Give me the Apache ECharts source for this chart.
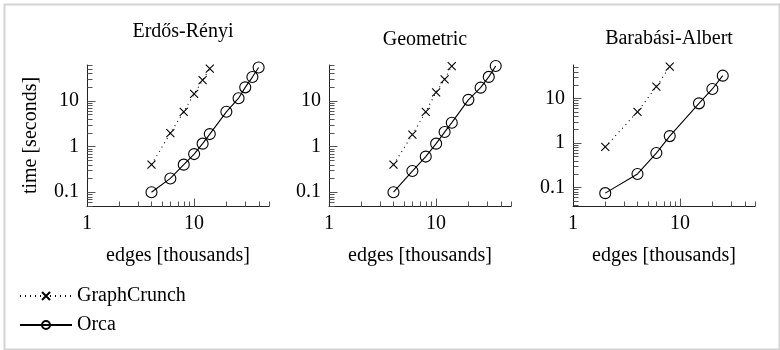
<!DOCTYPE html>
<html>
<head>
<meta charset="utf-8">
<script src="https://cdn.jsdelivr.net/npm/echarts@6/dist/echarts.min.js"></script>
<style>html,body{margin:0;padding:0;background:#fff}#c{width:780px;height:350px}</style>
</head>
<body>
<div id="c"></div>
<script>
// ---- data (edges in thousands, time in seconds) ----
const panelTitles = ['Erdős-Rényi', 'Geometric', 'Barabási-Albert'];
const seriesNames = ['GraphCrunch', 'Orca'];

const erGcX = [4, 6, 8, 10, 12, 14];
const erGcY = [0.4, 1.95, 5.7, 14, 28, 50];
const erOrcaX = [4, 6, 8, 10, 12, 14, 20, 26, 30, 35, 40];
const erOrcaY = [0.1, 0.2, 0.4, 0.68, 1.15, 1.86, 5.7, 11.3, 19.5, 32.7, 53];

const geoGcX = [4, 6, 8, 10, 12, 14];
const geoGcY = [0.4, 1.8, 5.7, 15.2, 29, 57];
const geoOrcaX = [4, 6, 8, 10, 12, 14, 20, 26, 31, 36];
const geoOrcaY = [0.1, 0.29, 0.6, 1.15, 2.06, 3.3, 10.4, 19.2, 33, 57];

const baGcX = [2, 4, 6, 8];
const baGcY = [0.81, 5.0, 18.4, 52];
const baOrcaX = [2, 4, 6, 8, 15, 20, 25];
const baOrcaY = [0.074, 0.2, 0.59, 1.42, 7.75, 16.3, 32.5];

// axis ranges and tick positions
const xMin = 1, xMax = 50;
const yMins = [0.05, 0.05, 0.038];
const yMaxs = [60, 60, 56.5];
const xMajorTicks = [10];
const xMinorTicks = [2, 3, 4, 5, 6, 7, 8, 9, 20, 30, 40, 50];
const yMajorTicks = [0.1, 1, 10];
const yMinorTicks = [0.04, 0.05, 0.06, 0.07, 0.08, 0.09, 0.2, 0.3, 0.4, 0.5, 0.6, 0.7, 0.8, 0.9,
                     2, 3, 4, 5, 6, 7, 8, 9, 20, 30, 40, 50, 60];

const panels = [
  {gcX: erGcX, gcY: erGcY, oX: erOrcaX, oY: erOrcaY},
  {gcX: geoGcX, gcY: geoGcY, oX: geoOrcaX, oY: geoOrcaY},
  {gcX: baGcX, gcY: baGcY, oX: baOrcaX, oY: baOrcaY}
];

const FONT = 'Liberation Serif';
const FS = 20;
const gridLefts = [87, 329, 573];
const titleTops = [17, 25, 24];
const gridW = 182, gridTop = 65, gridH = 141;

function zip(a, b) { return a.map((v, i) => [v, b[i]]); }
function fmtPow(v) {
  const l = Math.log10(v), e = Math.round(l);
  if (Math.abs(l - e) > 1e-6) return '';
  return e < 0 ? Math.pow(10, e).toFixed(-e) : String(Math.round(Math.pow(10, e)));
}

const crossPath = 'path://M0,0L10,10M0,10L10,0';

const grid = [], xAxis = [], yAxis = [], series = [], title = [];
panels.forEach((p, i) => {
  grid.push({left: gridLefts[i], top: gridTop, width: gridW, height: gridH});
  title.push({
    text: panelTitles[i], left: gridLefts[i] + gridW / 2, top: titleTops[i], textAlign: 'center',
    textStyle: {fontFamily: FONT, fontSize: FS, fontWeight: 'normal', color: '#000'}
  });
  xAxis.push({
    type: 'log', logBase: 10, gridIndex: i, min: xMin, max: xMax,
    axisLine: {show: true, lineStyle: {color: '#222', width: 1}},
    axisTick: {show: false}, splitLine: {show: false}, minorTick: {show: false},
    axisLabel: {fontFamily: FONT, fontSize: FS, color: '#000', margin: 8, formatter: fmtPow},
    name: 'edges [thousands]', nameLocation: 'middle', nameGap: 40,
    nameTextStyle: {fontFamily: FONT, fontSize: FS, color: '#000'}
  });
  yAxis.push({
    type: 'log', logBase: 10, gridIndex: i, min: yMins[i], max: yMaxs[i],
    axisLine: {show: true, lineStyle: {color: '#222', width: 1}},
    axisTick: {show: false}, splitLine: {show: false}, minorTick: {show: false},
    axisLabel: {fontFamily: FONT, fontSize: FS, color: '#000', margin: 8, formatter: fmtPow},
    name: i === 0 ? 'time [seconds]' : '', nameLocation: 'middle', nameGap: 46,
    nameTextStyle: {fontFamily: FONT, fontSize: FS, color: '#000'}
  });
  series.push({
    name: seriesNames[0], type: 'line', xAxisIndex: i, yAxisIndex: i,
    data: zip(p.gcX, p.gcY), clip: false,
    symbol: crossPath, symbolSize: 8, symbolKeepAspect: true,
    itemStyle: {color: 'rgba(0,0,0,0)', borderColor: '#000', borderWidth: 1.1},
    lineStyle: {color: '#000', width: 1.1, type: [1, 4]},
    emphasis: {disabled: true}, silent: true, animation: false
  });
  series.push({
    name: seriesNames[1], type: 'line', xAxisIndex: i, yAxisIndex: i,
    data: zip(p.oX, p.oY), clip: false,
    symbol: 'circle', symbolSize: 11,
    itemStyle: {color: 'rgba(0,0,0,0)', borderColor: '#000', borderWidth: 1.1},
    lineStyle: {color: '#000', width: 1.1},
    emphasis: {disabled: true}, silent: true, animation: false
  });
  // tick marks (pgfplots-style log ticks pointing inward)
  const tickData = [];
  xMajorTicks.forEach(v => tickData.push([v, yMins[i], 0, 8]));
  xMinorTicks.forEach(v => { if (v <= xMax) tickData.push([v, yMins[i], 0, 5]); });
  yMajorTicks.forEach(v => tickData.push([xMin, v, 1, 8]));
  yMinorTicks.forEach(v => { if (v >= yMins[i] && v <= yMaxs[i]) tickData.push([xMin, v, 1, 5]); });
  series.push({
    type: 'custom', xAxisIndex: i, yAxisIndex: i, silent: true, animation: false, clip: false,
    data: tickData,
    renderItem: function (params, api) {
      const pt = api.coord([api.value(0), api.value(1)]);
      const len = api.value(3);
      const vertical = api.value(2) === 0;
      const x = Math.round(pt[0]) + 0.5, y = Math.round(pt[1]) + 0.5;
      return {
        type: 'line',
        shape: vertical ? {x1: x, y1: y, x2: x, y2: y - len} : {x1: x, y1: y, x2: x + len, y2: y},
        style: {stroke: '#555', lineWidth: 1}
      };
    }
  });
});

const chart = echarts.init(document.getElementById('c'), null, {renderer: 'canvas'});
chart.setOption({
  animation: false,
  backgroundColor: '#fff',
  title: title,
  grid: grid,
  xAxis: xAxis,
  yAxis: yAxis,
  series: series,
  legend: {
    data: seriesNames, orient: 'vertical', left: 14, top: 281,
    itemWidth: 52, itemHeight: 10, itemGap: 9,
    textStyle: {fontFamily: FONT, fontSize: FS, color: '#000'}
  },
  graphic: [{
    type: 'rect', left: 2, top: 2, silent: true,
    shape: {width: 775, height: 345},
    style: {fill: 'none', stroke: '#d4d4d4', lineWidth: 2}
  }]
});
</script>
</body>
</html>
